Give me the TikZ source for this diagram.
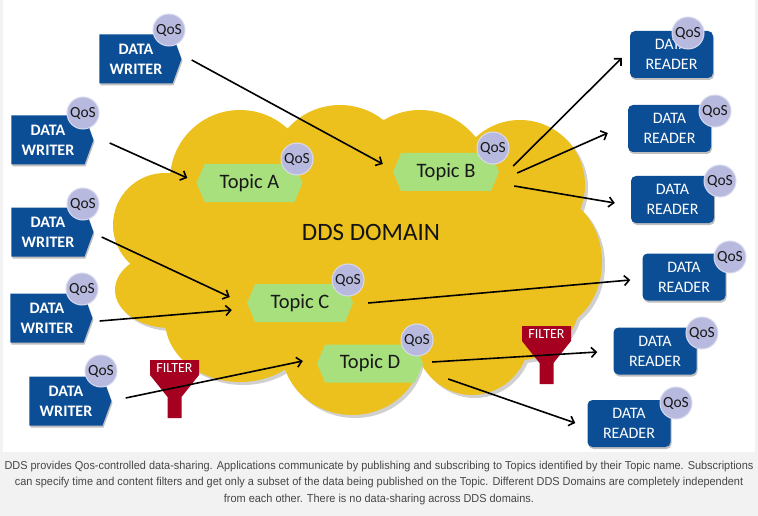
\documentclass[tikz,border=0pt]{standalone}
\usepackage{fontspec}
\setmainfont{Carlito}
\newfontfamily\capfont[FakeStretch=0.95]{Liberation Sans}
\usetikzlibrary{shapes.symbols,shadows,arrows.meta}

\definecolor{ddsblue}{RGB}{12,78,150}
\definecolor{qosfill}{RGB}{183,185,222}
\definecolor{qosedge}{RGB}{218,219,238}
\definecolor{cloudy}{RGB}{236,193,30}
\definecolor{cloudshade}{RGB}{208,208,208}
\definecolor{topicg}{RGB}{168,224,125}
\definecolor{filtred}{RGB}{166,0,33}
\definecolor{capbg}{RGB}{242,242,242}
\definecolor{captxt}{RGB}{70,70,70}

\begin{document}
\begin{tikzpicture}[x=1pt,y=-1pt,
  boxshadow/.style={drop shadow={shadow xshift=1pt,shadow yshift=-2pt,opacity=0.25,fill=black}},
  writer/.style={signal, signal to=east, signal pointer angle=140, fill=ddsblue, text=white,
    minimum width=82pt, minimum height=49pt, inner sep=0pt, align=center,
    font=\bfseries\fontsize{16}{20}\selectfont, boxshadow},
  reader/.style={rectangle, rounded corners=5pt, fill=ddsblue, text=white,
    minimum width=83pt, minimum height=47pt, inner sep=0pt, align=center,
    font=\fontsize{16}{20}\selectfont, boxshadow},
  topic/.style={signal, signal to=east and west, signal pointer angle=134, fill=topicg,
    minimum width=106pt, minimum height=38pt, inner sep=0pt,
    font=\fontsize{20.5}{24}\selectfont, text=black!90},
  qos/.style={circle, fill=qosfill, draw=qosedge, line width=1pt, minimum size=32pt,
    inner sep=0pt, font=\fontsize{15.5}{18}\selectfont, text=black!90},
  filtlabel/.style={inner sep=0pt, text=white, font=\fontsize{14}{16}\selectfont},
  arr/.style={draw=black, line width=1.6pt, -{Straight Barb[length=5pt,width=10pt]}}
]
\useasboundingbox (0,0) rectangle (758,516);
\fill[capbg] (0,0) rectangle (758,516);
\fill[white] (3,0) rectangle (755,452);

% cloud shadow
\begin{scope}[shift={(3,3)}]
\fill[cloudshade]
  (165,225) circle[radius=52pt]
  (170,290) ellipse[x radius=55pt,y radius=38pt]
  (240,180) circle[radius=70pt]
  (340,175) circle[radius=70pt]
  (420,180) circle[radius=70pt]
  (520,185) circle[radius=65pt]
  (545,262) ellipse[x radius=57pt,y radius=68pt]
  (520,300) circle[radius=60pt]
  (472,335) ellipse[x radius=58pt,y radius=60pt]
  (352,350) ellipse[x radius=70pt,y radius=65pt]
  (240,320) ellipse[x radius=75pt,y radius=62pt]
  (360,260) ellipse[x radius=200pt,y radius=100pt];
\end{scope}
% cloud
\fill[cloudy]
  (165,225) circle[radius=52pt]
  (170,290) ellipse[x radius=55pt,y radius=38pt]
  (240,180) circle[radius=70pt]
  (340,175) circle[radius=70pt]
  (420,180) circle[radius=70pt]
  (520,185) circle[radius=65pt]
  (545,262) ellipse[x radius=57pt,y radius=68pt]
  (520,300) circle[radius=60pt]
  (472,335) ellipse[x radius=58pt,y radius=60pt]
  (352,350) ellipse[x radius=70pt,y radius=65pt]
  (240,320) ellipse[x radius=75pt,y radius=62pt]
  (360,260) ellipse[x radius=200pt,y radius=100pt];

\node[font=\fontsize{25}{30}\selectfont, text=black!92] (dom) at (371,232) {DDS DOMAIN};

% topics
\node[topic] (tA) at (249.5,183) {Topic A};
\node[topic] (tB) at (446,172) {Topic B};
\node[topic] (tC) at (300,303) {Topic C};
\node[topic] (tD) at (370,363.5) {Topic D};

% writers
\node[writer] (w1) at (136,59) {DATA\\WRITER};
\node[writer] (w2) at (48,140) {DATA\\WRITER};
\node[writer] (w3) at (48,232) {DATA\\WRITER};
\node[writer] (w4) at (47,318) {DATA\\WRITER};
\node[writer] (w5) at (66,401) {DATA\\WRITER};

% readers
\node[reader] (r1) at (671.5,54.5) {DATA\\READER};
\node[reader] (r2) at (669.5,128.5) {DATA\\READER};
\node[reader] (r3) at (672.5,199.5) {DATA\\READER};
\node[reader] (r4) at (684,277) {DATA\\READER};
\node[reader] (r5) at (655,351) {DATA\\READER};
\node[reader] (r6) at (629,423.5) {DATA\\READER};

% QoS badges
\node[qos] (qw1) at ([shift={(33,-29)}]w1.center) {QoS};
\node[qos] (qw2) at ([shift={(35,-27)}]w2.center) {QoS};
\node[qos] (qw3) at ([shift={(35,-28)}]w3.center) {QoS};
\node[qos] (qw4) at ([shift={(35,-29)}]w4.center) {QoS};
\node[qos] (qw5) at ([shift={(35,-30)}]w5.center) {QoS};
\node[qos] (qtA) at ([shift={(47.5,-24)}]tA.center) {QoS};
\node[qos] (qtB) at ([shift={(47,-24)}]tB.center) {QoS};
\node[qos] (qtC) at ([shift={(48,-23)}]tC.center) {QoS};
\node[qos] (qtD) at ([shift={(47,-23.5)}]tD.center) {QoS};
\node[qos] (qr1) at ([shift={(16.5,-21.5)}]r1.center) {QoS};
\node[qos] (qr2) at ([shift={(45.5,-17.5)}]r2.center) {QoS};
\node[qos] (qr3) at ([shift={(47.5,-18.5)}]r3.center) {QoS};
\node[qos] (qr4) at ([shift={(46,-20)}]r4.center) {QoS};
\node[qos] (qr5) at ([shift={(47,-18)}]r5.center) {QoS};
\node[qos] (qr6) at ([shift={(47,-20.5)}]r6.center) {QoS};

% filters
\begin{scope}[shift={(174.5,368)}]
\fill[filtred] (-24.5,-8) -- (24.5,-8) -- (24.5,7) -- (7,29) -- (7,50) -- (-7,50) -- (-7,29) -- (-24.5,7) -- cycle;
\end{scope}
\node[filtlabel] (f1) at (174.5,368.5) {FILTER};
\begin{scope}[shift={(546.5,334)}]
\fill[filtred] (-24.5,-8) -- (24.5,-8) -- (24.5,7) -- (7,29) -- (7,50) -- (-7,50) -- (-7,29) -- (-24.5,7) -- cycle;
\end{scope}
\node[filtlabel] (f2) at (546.5,334.5) {FILTER};

% connectors
\draw[arr] ([shift={(10,1)}]w1.east) -- ([shift={(-10,-8)}]tB.west);
\draw[arr] ([shift={(16,3)}]w2.east) -- ([shift={(-9,-5)}]tA.west);
\draw[arr] ([shift={(8,5)}]w3.east) -- ([shift={(-17,-6)}]tC.west);
\draw[arr] ([shift={(7,3)}]w4.east) -- ([shift={(-15,7)}]tC.west);
\draw[arr] ([shift={(14,-3)}]w5.east) -- ([shift={(-14,-2.5)}]tD.west);
\draw[arr] ([shift={(14,-6)}]tB.east) -- ([shift={(-8,3.5)}]r1.west);
\draw[arr] ([shift={(18,1)}]tB.east) -- ([shift={(-20,4.5)}]r2.west);
\draw[arr] ([shift={(15,14)}]tB.east) -- ([shift={(-16,3.5)}]r3.west);
\draw[arr] ([shift={(15,0)}]tC.east) -- ([shift={(-12,3)}]r4.west);
\draw[arr] ([shift={(9,-1.5)}]tD.east) -- ([shift={(-16,1)}]r5.west);
\draw[arr] ([shift={(25,15.5)}]tD.east) -- ([shift={(-12,-0.5)}]r6.west);

% caption
\node[font=\capfont\fontsize{11.5}{16.5}\selectfont, text=captxt, align=center, inner sep=0pt] (cap) at (379,483)
 {DDS provides Qos-controlled data-sharing. Applications communicate by publishing and subscribing to Topics identified by their Topic name. Subscriptions\\
  can specify time and content filters and get only a subset of the data being published on the Topic. Different DDS Domains are completely independent\\
  from each other. There is no data-sharing across DDS domains.};
\end{tikzpicture}
\end{document}
